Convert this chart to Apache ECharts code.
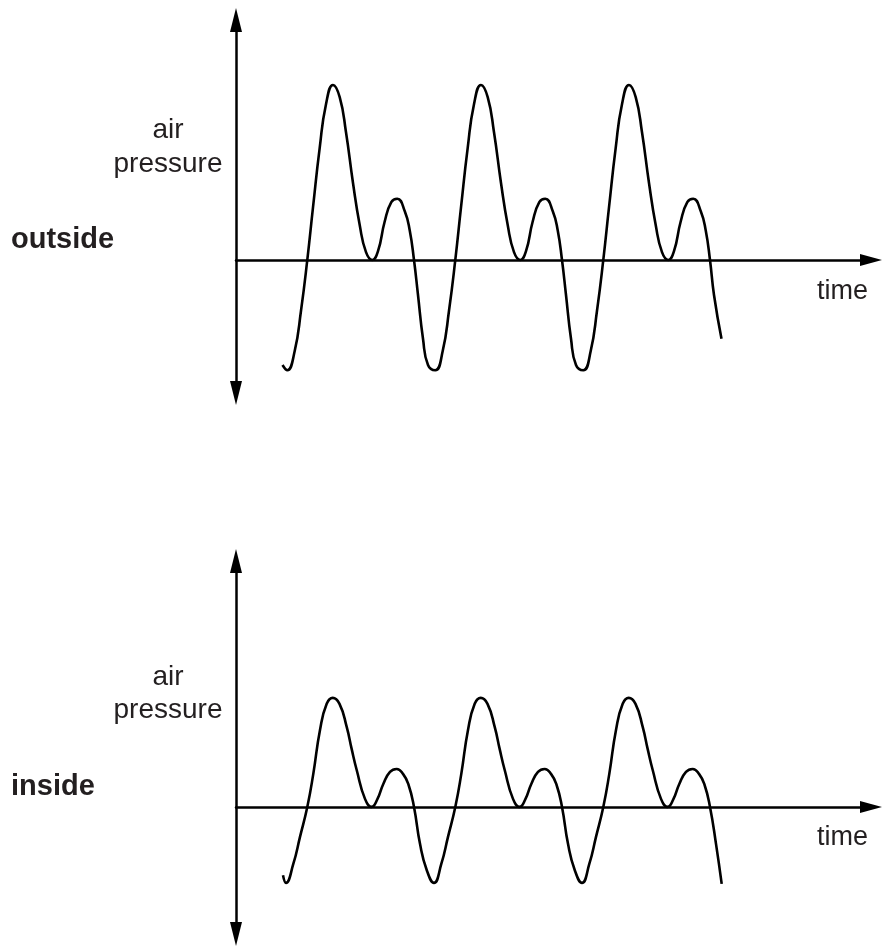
<!DOCTYPE html>
<html>
<head>
<meta charset="utf-8">
<script src="https://cdn.jsdelivr.net/npm/echarts@6/dist/echarts.min.js"></script>
<style>
html,body{margin:0;padding:0;background:#fff;}
#chart{width:882px;height:947px;}
</style>
</head>
<body>
<div id="chart"></div>
<script>
// Panel labels
const panelNames = ['outside', 'inside'];
const yAxisLabel = ['air', 'pressure'];
const xAxisLabel = 'time';

// Outside (top) waveform: time (arbitrary units) and air pressure (arbitrary units)
const outsideTime = [
  4.65,
  5.13, 5.87, 6.5, 7.13, 7.7, 8.37, 9.0, 9.7, 10.37, 11.0, 11.7, 12.37, 13.0, 13.63, 14.2, 14.87, 15.53, 16.13, 16.87, 17.37, 17.8, 18.2, 18.7, 19.2,
  19.93, 20.67, 21.3, 21.93, 22.5, 23.17, 23.8, 24.5, 25.17, 25.8, 26.5, 27.17, 27.8, 28.43, 29.0, 29.67, 30.33, 30.93, 31.67, 32.17, 32.6, 33.0, 33.5, 34.0,
  34.73, 35.47, 36.1, 36.73, 37.3, 37.97, 38.6, 39.3, 39.97, 40.6, 41.3, 41.97, 42.6, 43.23, 43.8, 44.47, 45.13, 45.73, 46.47, 46.97, 47.4, 47.8, 48.55
];
const outsidePressure = [
  -6.0,
  -6.3, -5.2, -2.9, 0, 3.0, 6.4, 8.9, 10.0, 9.3, 7.3, 4.4, 2.0, 0.45, 0, 0.5, 2.2, 3.3, 3.5, 2.8, 1.7, 0, -2.0, -4.5, -6.0,
  -6.3, -5.2, -2.9, 0, 3.0, 6.4, 8.9, 10.0, 9.3, 7.3, 4.4, 2.0, 0.45, 0, 0.5, 2.2, 3.3, 3.5, 2.8, 1.7, 0, -2.0, -4.5, -6.0,
  -6.3, -5.2, -2.9, 0, 3.0, 6.4, 8.9, 10.0, 9.3, 7.3, 4.4, 2.0, 0.45, 0, 0.5, 2.2, 3.3, 3.5, 2.8, 1.7, 0, -2.0, -4.5
];

// Inside (bottom) waveform
const insideTime = [
  4.7,
  5.0, 5.73, 6.4, 7.13, 7.73, 8.4, 9.07, 9.67, 10.35, 11.07, 11.57, 12.07, 12.9, 13.57, 14.15, 14.73, 15.4, 16.07, 16.7, 17.23, 17.8, 18.4, 19.07,
  19.8, 20.53, 21.2, 21.93, 22.53, 23.2, 23.87, 24.47, 25.15, 25.87, 26.37, 26.87, 27.7, 28.37, 28.95, 29.53, 30.2, 30.87, 31.5, 32.03, 32.6, 33.2, 33.87,
  34.6, 35.33, 36.0, 36.73, 37.33, 38.0, 38.67, 39.27, 39.95, 40.67, 41.17, 41.67, 42.5, 43.17, 43.75, 44.33, 45.0, 45.67, 46.3, 46.83, 47.4, 48.0, 48.57
];
const insidePressure = [
  -3.9,
  -4.34, -3.26, -1.71, 0, 1.89, 4.4, 5.89, 6.23, 5.89, 4.57, 3.3, 2.11, 0.46, 0, 0.46, 1.31, 2.0, 2.17, 1.89, 1.31, 0, -2.11, -3.6,
  -4.34, -3.26, -1.71, 0, 1.89, 4.4, 5.89, 6.23, 5.89, 4.57, 3.3, 2.11, 0.46, 0, 0.46, 1.31, 2.0, 2.17, 1.89, 1.31, 0, -2.11, -3.6,
  -4.34, -3.26, -1.71, 0, 1.89, 4.4, 5.89, 6.23, 5.89, 4.57, 3.3, 2.11, 0.46, 0, 0.46, 1.31, 2.0, 2.17, 1.89, 1.31, 0, -2.11, -4.4
];

const zip = (a, b) => a.map((v, i) => [v, b[i]]);

const INK = '#000';
const TEXT = '#231f20';
const FONT = '"Liberation Sans", Arial, Helvetica, sans-serif';

function axisX(gi) {
  return {
    gridIndex: gi, type: 'value', min: 0, max: 63.5,
    axisLine: { show: true, onZero: true, symbol: ['none', 'triangle'], symbolSize: [12, 22], lineStyle: { color: INK, width: 2.5 } },
    axisTick: { show: false }, axisLabel: { show: false }, splitLine: { show: false }
  };
}
function axisY(gi, min, max) {
  return {
    gridIndex: gi, type: 'value', min: min, max: max,
    axisLine: { show: true, onZero: false, symbol: ['triangle', 'triangle'], symbolSize: [12, 24], lineStyle: { color: INK, width: 2.5 } },
    axisTick: { show: false }, axisLabel: { show: false }, splitLine: { show: false }
  };
}

function styled(text, x, y, font, align) {
  return {
    type: 'text', x: x, y: y, silent: true,
    style: { text: text, fill: TEXT, font: font, align: align, verticalAlign: 'middle' }
  };
}

const chart = echarts.init(document.getElementById('chart'), null, { renderer: 'canvas' });
chart.setOption({
  backgroundColor: '#fff',
  animation: false,
  grid: [
    { left: 236, right: 11, top: 20, height: 373 },
    { left: 236, right: 11, top: 561, height: 373 }
  ],
  xAxis: [axisX(0), axisX(1)],
  yAxis: [axisY(0, -7.6, 13.71), axisY(1, -7.26, 14.05)],
  series: [
    { type: 'line', xAxisIndex: 0, yAxisIndex: 0, data: zip(outsideTime, outsidePressure), smooth: 0.5, showSymbol: false, lineStyle: { color: INK, width: 2.6 } },
    { type: 'line', xAxisIndex: 1, yAxisIndex: 1, data: zip(insideTime, insidePressure), smooth: 0.5, showSymbol: false, lineStyle: { color: INK, width: 2.6 } }
  ],
  graphic: [
    styled(yAxisLabel[0], 168, 130, '28px ' + FONT, 'center'),
    styled(yAxisLabel[1], 168, 164, '28px ' + FONT, 'center'),
    styled(panelNames[0], 11, 240, 'bold 29px ' + FONT, 'left'),
    styled(xAxisLabel, 868, 292, '27px ' + FONT, 'right'),
    styled(yAxisLabel[0], 168, 677, '28px ' + FONT, 'center'),
    styled(yAxisLabel[1], 168, 710, '28px ' + FONT, 'center'),
    styled(panelNames[1], 11, 787, 'bold 29px ' + FONT, 'left'),
    styled(xAxisLabel, 868, 838, '27px ' + FONT, 'right')
  ]
});
</script>
</body>
</html>
